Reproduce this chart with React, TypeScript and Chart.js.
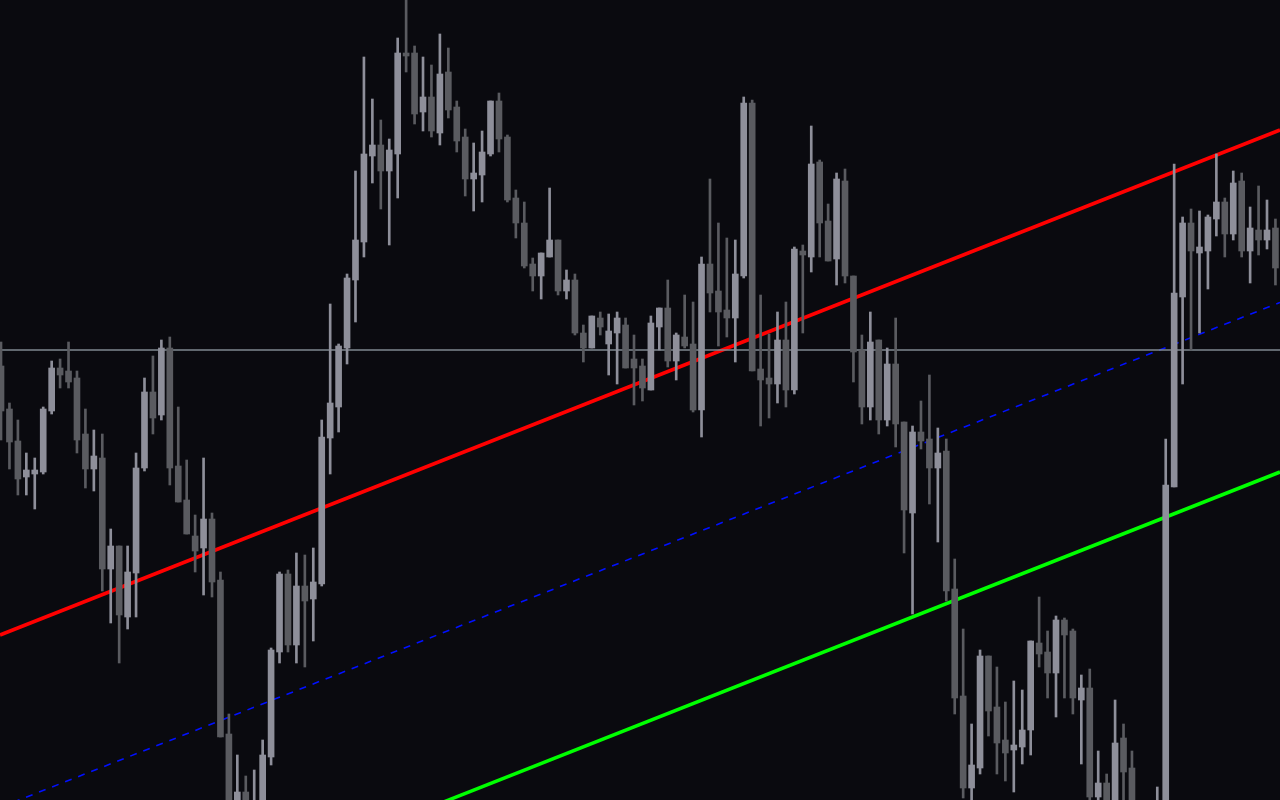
import { useEffect, useRef } from 'react';
import { Chart, registerables } from 'chart.js';

Chart.register(...registerables);

// Candle prices (in points), one entry per bar, oldest first
const openPrices = [
  434, 391, 359, 323, 326, 328, 389, 432, 429, 422,
  366, 331, 342, 231, 254, 183, 227, 332, 408, 385,
  452, 334, 300, 264, 252, 281, 220, 66, -20, 8,
  -30, -15, 43, 148, 226, 155, 214, 201, 216, 362,
  393, 452, 520, 558, 644, 655, 629, 646, 747, 747,
  688, 703, 667, 728, 693, 663, 621, 625, 646, 699,
  663, 602, 577, 536, 524, 543, 560, 509, 520, 467,
  452, 482, 456, 467, 475, 441, 434, 410, 473, 492,
  439, 463, 456, 390, 536, 509, 490, 482, 524, 697,
  431, 422, 416, 460, 410, 549, 543, 638, 579, 541,
  619, 524, 450, 393, 460, 380, 436, 378, 287, 368,
  361, 332, 349, 211, 104, 12, 32, 144, 93, 60,
  50, 53, 70, 157, 148, 127, 180, 169, 100, 112,
  3, 17, -10, 62, 32, -10, -30, -35, -20, 313,
  503, 577, 547, 549, 581, 598, 566, 619, 549, 570,
  560, 572,
];

const highPrices = [
  458, 397, 380, 347, 342, 393, 439, 441, 458, 429,
  391, 370, 366, 271, 254, 254, 347, 422, 444, 460,
  463, 393, 340, 285, 342, 287, 228, 86, 45, 24,
  30, 60, 152, 228, 230, 247, 245, 252, 380, 496,
  456, 526, 629, 743, 701, 680, 661, 762, 802, 754,
  743, 735, 766, 752, 699, 671, 657, 669, 699, 707,
  665, 610, 598, 542, 547, 612, 560, 530, 526, 475,
  484, 488, 486, 488, 482, 465, 441, 484, 492, 520,
  467, 505, 498, 543, 621, 577, 562, 560, 703, 700,
  505, 466, 488, 498, 553, 555, 674, 640, 596, 627,
  631, 524, 465, 488, 460, 452, 482, 378, 374, 399,
  425, 372, 361, 241, 171, 76, 150, 144, 133, 98,
  119, 110, 159, 203, 169, 184, 182, 171, 125, 131,
  49, 26, 100, 76, 49, -5, -8, 13, 361, 636,
  583, 591, 589, 585, 646, 602, 629, 627, 593, 614,
  600, 581,
];

const lowPrices = [
  360, 331, 305, 305, 291, 326, 386, 412, 412, 347,
  312, 309, 209, 177, 137, 171, 183, 329, 366, 380,
  315, 298, 266, 228, 205, 203, 63, -50, -40, -30,
  -45, -30, 35, 137, 148, 137, 133, 159, 214, 326,
  368, 436, 478, 543, 617, 591, 555, 602, 728, 676,
  669, 663, 655, 682, 648, 604, 589, 598, 644, 648,
  598, 562, 532, 509, 501, 543, 505, 501, 465, 438,
  452, 465, 425, 416, 432, 395, 399, 410, 450, 433,
  420, 452, 388, 363, 488, 454, 463, 438, 522, 429,
  374, 382, 397, 393, 406, 467, 528, 543, 539, 515,
  517, 418, 376, 380, 366, 374, 353, 247, 186, 351,
  296, 258, 199, 86, 2, -5, 26, 64, 26, 19,
  8, 36, 45, 133, 102, 83, 102, 86, 36, -5,
  -5, -15, -20, -5, -15, -40, -45, -45, -30, 313,
  416, 450, 467, 511, 564, 543, 560, 543, 517, 545,
  551, 515,
];

const closePrices = [
  389, 358, 321, 330, 330, 391, 432, 425, 418, 360,
  331, 344, 231, 254, 185, 228, 332, 408, 382, 452,
  332, 298, 266, 249, 281, 218, 63, -10, 8, -15,
  -5, 45, 150, 226, 155, 214, 199, 218, 363, 397,
  454, 522, 560, 646, 655, 629, 650, 747, 744, 686,
  703, 669, 726, 690, 659, 621, 627, 648, 699, 661,
  600, 577, 534, 524, 547, 560, 509, 520, 467, 452,
  484, 473, 469, 482, 432, 432, 412, 477, 492, 439,
  465, 454, 390, 536, 507, 488, 482, 526, 697, 429,
  420, 416, 460, 410, 551, 545, 636, 577, 539, 621,
  524, 448, 393, 458, 380, 436, 376, 290, 368, 359,
  332, 347, 209, 102, 12, 35, 144, 89, 57, 47,
  55, 70, 159, 146, 127, 180, 165, 102, 112, 3,
  17, -5, 57, 28, -5, -30, -15, -10, 315, 507,
  577, 549, 553, 583, 598, 566, 617, 549, 572, 560,
  570, 532,
];

// Visible window (bar index) and price range
const X_MIN = -0.12;
const X_MAX = 151.54;
const Y_MIN = 0;
const Y_MAX = 800;

// Channel lines: value at the left edge and at the right edge of the window
const channelEdges = [X_MIN, X_MAX];
const upperChannel = [165, 670];
const middleChannel = [-7.5, 497.5];
const lowerChannel = [-177, 328];
const pivotLevel = [450, 450];

const BG = '#0a0a0f';
const UP_COLOR = '#8e8f9a';
const DOWN_COLOR = '#5a5b60';

export default function App() {
  const ref = useRef<HTMLCanvasElement | null>(null);

  useEffect(() => {
    document.body.style.margin = '0';
    document.body.style.background = BG;
    const canvas = ref.current;
    if (!canvas) return;

    const idx = openPrices.map((_, i) => i);
    const colors = idx.map((i) => (closePrices[i] >= openPrices[i] ? UP_COLOR : DOWN_COLOR));
    const linePts = (vals: number[]) => channelEdges.map((x, k) => ({ x, y: vals[k] }));

    const lineDs = (vals: number[], color: string, width: number, dash: number[] = []) => ({
      type: 'line' as const,
      data: linePts(vals),
      borderColor: color,
      borderWidth: width,
      borderDash: dash,
      pointRadius: 0,
      tension: 0,
      fill: false,
      order: 3,
    });

    const chart = new Chart(canvas, {
      type: 'bar',
      data: {
        datasets: [
          lineDs(pivotLevel, '#7f8891', 1.6) as any,
          lineDs(upperChannel, '#ff0000', 3.5) as any,
          lineDs(middleChannel, '#0010ff', 1.6, [7, 7]) as any,
          lineDs(lowerChannel, '#00ff00', 3.5) as any,
          {
            type: 'bar',
            data: idx.map((i) => ({ x: i, y: [lowPrices[i], highPrices[i]] })) as any,
            backgroundColor: colors,
            borderWidth: 0,
            barThickness: 2,
            grouped: false,
            order: 1,
          },
          {
            type: 'bar',
            data: idx.map((i) => ({ x: i, y: [openPrices[i], closePrices[i]] })) as any,
            backgroundColor: colors,
            borderWidth: 0,
            barThickness: 6,
            minBarLength: 2,
            grouped: false,
            order: 0,
          },
        ],
      },
      options: {
        animation: false,
        responsive: false,
        devicePixelRatio: 1,
        events: [],
        layout: { padding: 0 },
        plugins: { legend: { display: false }, tooltip: { enabled: false } },
        scales: {
          x: { type: 'linear', min: X_MIN, max: X_MAX, display: false, offset: false },
          y: { type: 'linear', min: Y_MIN, max: Y_MAX, display: false },
        },
      },
    });
    return () => chart.destroy();
  }, []);

  return (
    <div style={{ position: 'fixed', left: 0, top: 0, width: 1280, height: 800, background: BG }}>
      <canvas ref={ref} width={1280} height={800} style={{ display: 'block' }} />
    </div>
  );
}
